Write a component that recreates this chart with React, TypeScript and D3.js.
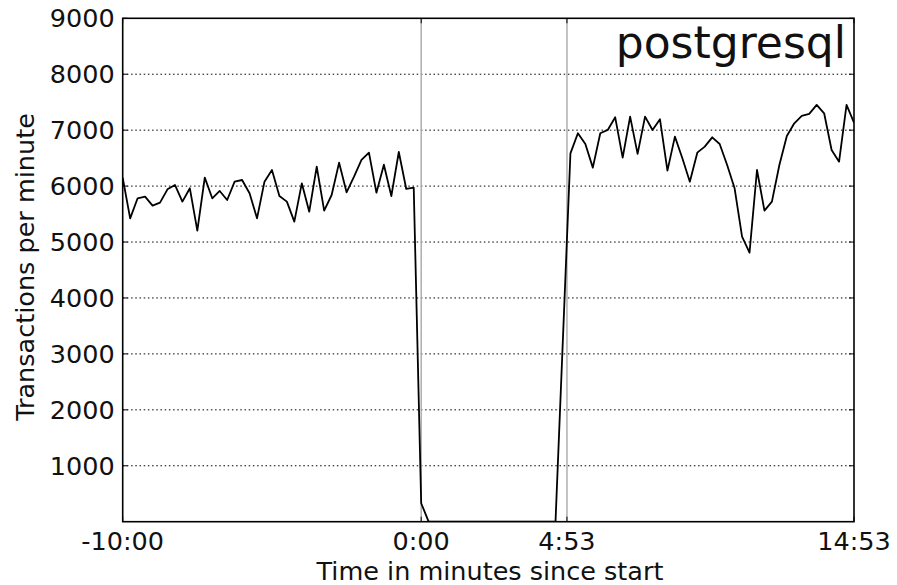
import React, { useEffect, useRef } from "react";
import * as d3 from "d3";

// samples every 15 s, time in seconds relative to start
const stepSec = 15;
const beforeStart = -600;
const beforeValues = [
  6150, 5424, 5782, 5811, 5650, 5704, 5942, 6020, 5722, 5961,
  5203, 6151, 5782, 5913, 5752, 6079, 6109, 5872, 5424, 6079,
  6288, 5823, 5722, 5364, 6050, 5543, 6347, 5561, 5841, 6419,
  5889, 6168, 6467, 6598, 5883, 6383, 5823, 6610, 5949, 5972,
];
const outageStart = 0;
const outageValues = [330, 0, 0, 0, 0, 0, 0, 0, 0, 0, 0, 0, 0, 0, 0, 0, 0, 0, 0];
const afterStart = 300;
const afterValues = [
  6586, 6944, 6753, 6330, 6944, 7004, 7230, 6509, 7242, 6575,
  7242, 7004, 7194, 6276, 6884, 6497, 6079, 6598, 6705, 6872,
  6753, 6378, 5961, 5096, 4810, 6288, 5561, 5722, 6378, 6896,
  7123, 7254, 7290, 7451, 7302, 6646, 6437, 7451, 7135,
];

const xTickValues = [-600, 0, 293, 870];
const xTickLabels = ["-10:00", "0:00", "4:53", "14:53"];
const markerLines = [0, 293];
const eventMarker = 285;
const yTicks = [1000, 2000, 3000, 4000, 5000, 6000, 7000, 8000, 9000];

const W = 897;
const H = 585;
const margin = { left: 122.7, right: 897 - 854, top: 18.3, bottom: 585 - 521.7 };
const FONT = "'DejaVu Sans', sans-serif";
const FS = 25.5;

export default function App() {
  const ref = useRef<SVGSVGElement>(null);

  useEffect(() => {
    document.body.style.margin = "0";
    const svg = d3.select(ref.current);
    svg.selectAll("*").remove();

    const x = d3.scaleLinear().domain([-600, 870]).range([margin.left, W - margin.right]);
    const y = d3.scaleLinear().domain([0, 9000]).range([H - margin.bottom, margin.top]);

    const pts: [number, number][] = [];
    beforeValues.forEach((v, i) => pts.push([beforeStart + i * stepSec, v]));
    outageValues.forEach((v, i) => pts.push([outageStart + i * stepSec, v]));
    afterValues.forEach((v, i) => pts.push([afterStart + i * stepSec, v]));

    svg.append("rect").attr("width", W).attr("height", H).attr("fill", "#fff");

    svg.append("defs").append("clipPath").attr("id", "plot")
      .append("rect")
      .attr("x", margin.left).attr("y", margin.top)
      .attr("width", W - margin.left - margin.right)
      .attr("height", H - margin.top - margin.bottom);

    // grid
    svg.append("g")
      .selectAll("line")
      .data(yTicks.slice(0, -1))
      .join("line")
      .attr("x1", margin.left).attr("x2", W - margin.right)
      .attr("y1", (d) => y(d)).attr("y2", (d) => y(d))
      .attr("stroke", "#000").attr("stroke-width", 1)
      .attr("stroke-dasharray", "1.5,2.7");

    // event lines
    svg.append("g")
      .selectAll("line")
      .data(markerLines)
      .join("line")
      .attr("x1", (d) => x(d)).attr("x2", (d) => x(d))
      .attr("y1", margin.top).attr("y2", H - margin.bottom)
      .attr("stroke", "#a8a8a8").attr("stroke-width", 1.4);

    const line = d3.line<[number, number]>().x((d) => x(d[0])).y((d) => y(d[1]));
    svg.append("path")
      .datum(pts)
      .attr("clip-path", "url(#plot)")
      .attr("d", line)
      .attr("fill", "none")
      .attr("stroke", "#000")
      .attr("stroke-width", 1.8)
      .attr("stroke-linejoin", "round");

    // red event marker at the bottom
    svg.append("path")
      .attr("clip-path", "url(#plot)")
      .attr("transform", `translate(${x(eventMarker)},${y(0)})`)
      .attr("d", "M-5,2 L0,-3.5 L5,2 Z")
      .attr("fill", "none")
      .attr("stroke", "#e0202a")
      .attr("stroke-width", 1.2);

    // frame
    svg.append("rect")
      .attr("x", margin.left).attr("y", margin.top)
      .attr("width", W - margin.left - margin.right)
      .attr("height", H - margin.top - margin.bottom)
      .attr("fill", "none").attr("stroke", "#000").attr("stroke-width", 1.6);

    // y ticks (inward, both sides)
    const gy = svg.append("g");
    yTicks.forEach((t) => {
      gy.append("line").attr("x1", margin.left).attr("x2", margin.left + 5)
        .attr("y1", y(t)).attr("y2", y(t)).attr("stroke", "#000");
      gy.append("line").attr("x1", W - margin.right - 5).attr("x2", W - margin.right)
        .attr("y1", y(t)).attr("y2", y(t)).attr("stroke", "#000");
      gy.append("text")
        .attr("x", margin.left - 8).attr("y", y(t))
        .attr("dy", "0.36em")
        .attr("text-anchor", "end")
        .attr("font-family", FONT).attr("font-size", FS)
        .attr("fill", "#111")
        .text(t);
    });

    // x ticks
    const gx = svg.append("g");
    xTickValues.forEach((t, i) => {
      gx.append("line").attr("x1", x(t)).attr("x2", x(t))
        .attr("y1", H - margin.bottom).attr("y2", H - margin.bottom - 5).attr("stroke", "#000");
      gx.append("line").attr("x1", x(t)).attr("x2", x(t))
        .attr("y1", margin.top).attr("y2", margin.top + 5).attr("stroke", "#000");
      gx.append("text")
        .attr("x", x(t)).attr("y", 549.5)
        .attr("text-anchor", "middle")
        .attr("font-family", FONT).attr("font-size", FS)
        .attr("fill", "#111")
        .text(xTickLabels[i]);
    });

    svg.append("text")
      .attr("x", 490)
      .attr("y", 580)
      .attr("text-anchor", "middle")
      .attr("font-family", FONT).attr("font-size", FS)
      .attr("fill", "#111")
      .text("Time in minutes since start");

    svg.append("text")
      .attr("transform", `translate(33.5,267) rotate(-90)`)
      .attr("text-anchor", "middle")
      .attr("font-family", FONT).attr("font-size", FS)
      .attr("fill", "#111")
      .text("Transactions per minute");

    svg.append("text")
      .attr("x", 846).attr("y", 58)
      .attr("text-anchor", "end")
      .attr("font-family", FONT).attr("font-size", 44)
      .attr("fill", "#111")
      .text("postgresql");
  }, []);

  return <svg ref={ref} width={W} height={H} style={{ display: "block" }} />;
}
